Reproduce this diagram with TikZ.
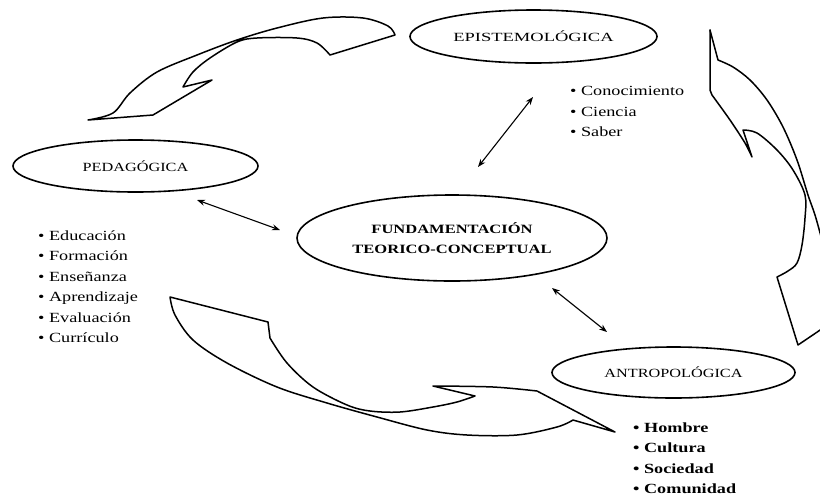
\documentclass[tikz,border=0pt]{standalone}
\usepackage{fontspec}
\setmainfont{Liberation Serif}
\newfontfamily\wideserif{Liberation Serif}[FakeStretch=1.3]
\newfontfamily\wideepi{Liberation Serif}[FakeStretch=1.48]
\usetikzlibrary{shapes.geometric,arrows.meta}
\begin{document}
\begin{tikzpicture}[x=1pt,y=-1pt,
  oval/.style={draw, ellipse, line width=1.6pt, inner sep=0pt},
  lbl/.style={font=\wideserif\fontsize{12.5}{14}\selectfont},
  itemlist/.style={anchor=north west, align=left, inner sep=0pt, font=\wideserif\fontsize{14}{20.5}\selectfont},
  link/.style={{Stealth[length=8pt,width=6pt]}-{Stealth[length=8pt,width=6pt]}, line width=1.1pt},
  ribbon/.style={line width=1.5pt, line join=round, line cap=round}]
\useasboundingbox (0,0) rectangle (820,499);
\fill[white] (0,0) rectangle (820,499);
\begin{scope}
\clip (0,0) rectangle (820,499);
% top-left curved arrow
\draw[ribbon] plot[smooth, tension=0.55] coordinates {(88,120) (113,113) (130,93) (157,72) (197,55) (237,40) (277,28) (323,18) (363,18) (388,26) (395,35)}
  -- (330,55)
  -- plot[smooth, tension=0.55] coordinates {(330,55) (317,43) (297,38) (257,38) (237,42) (210,58) (193,72) (183,87)}
  -- (212,80) -- (153,115) -- cycle;
% right curved arrow
\draw[ribbon] (710,30) -- (710,90) -- plot[smooth, tension=0.5] coordinates {(712,95) (730,120) (745,143) (752,157)}
  -- (743,130)
  -- plot[smooth, tension=0.55] coordinates {(743,130) (757,133) (777,150) (793,170) (805,195) (805,218) (802,245) (797,263) (788,271) (777,277)}
  -- (798,345) -- (832,322);
\draw[ribbon] (710,30) -- (718,60)
  -- plot[smooth, tension=0.55] coordinates {(718,60) (733,67) (750,80) (767,100) (783,127) (797,160) (808,195) (815,215) (822,240) (828,262)};
% bottom curved arrow
\draw[ribbon] (170,297) -- (268,322) -- (270,338)
  -- plot[smooth, tension=0.55] coordinates {(270,338) (287,363) (313,387) (347,405) (370,411) (400,412) (433,407) (457,402) (475,396)}
  -- (433,386)
  -- plot[smooth, tension=0.55] coordinates {(433,386) (493,387) (537,391)}
  -- (615,432) -- (573,420)
  -- plot[smooth, tension=0.55] coordinates {(573,420) (557,427) (517,435) (467,435) (427,430) (377,417) (327,403) (277,387) (227,363) (193,340) (175,315) (170,297)};
\end{scope}
% ellipses
\node[oval, minimum width=247pt, minimum height=53pt, font=\wideepi\fontsize{12.5}{14}\selectfont] (epi) at (533.5,36.5) {EPISTEMOLÓGICA};
\node[oval, lbl, minimum width=245pt, minimum height=52pt] (ped) at (135.5,166) {PEDAGÓGICA};
\node[oval, lbl, minimum width=243pt, minimum height=51pt] (ant) at (673.5,372.5) {ANTROPOLÓGICA};
\node[oval, minimum width=310pt, minimum height=86pt, align=center, font=\wideserif\bfseries\fontsize{12.7}{20}\selectfont] (fun) at (452,238) {FUNDAMENTACIÓN\\TEORICO-CONCEPTUAL};
% lists
\node[itemlist] (epilist) at (570,86.5) {• Conocimiento\\• Ciencia\\• Saber};
\node[itemlist] (pedlist) at (38,230.5) {• Educación\\• Formación\\• Enseñanza\\• Aprendizaje\\• Evaluación\\• Currículo};
\node[itemlist, font=\wideserif\bfseries\fontsize{14}{20.3}\selectfont] (antlist) at (633,422.5) {• Hombre\\• Cultura\\• Sociedad\\• Comunidad};
% double arrows
\coordinate (e1) at (533,97);
\coordinate (e2) at (478,167);
\coordinate (p1) at (197,200);
\coordinate (p2) at (280,230);
\coordinate (t1) at (552,288);
\coordinate (t2) at (607,332);
\draw[link] (e1) -- (e2);
\draw[link] (p1) -- (p2);
\draw[link] (t1) -- (t2);
\end{tikzpicture}
\end{document}
